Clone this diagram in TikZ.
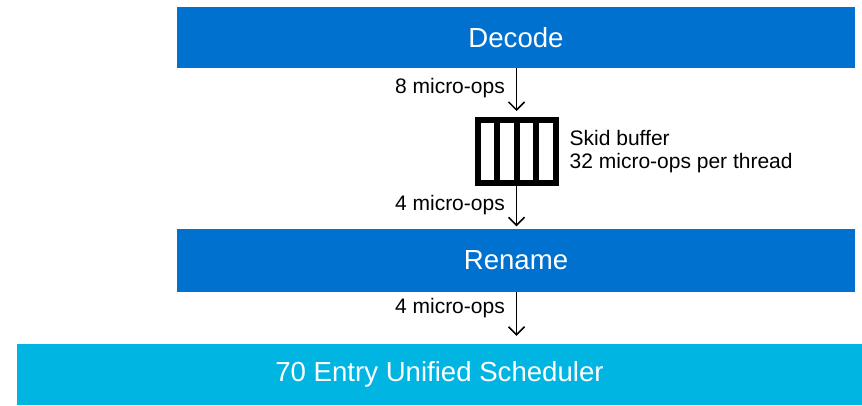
\documentclass[tikz,border=0pt]{standalone}
\usepackage{fontspec}
\setmainfont{Liberation Sans}
\usetikzlibrary{positioning,arrows.meta}
\definecolor{azulcaixa}{RGB}{0,113,206}
\definecolor{cianocaixa}{RGB}{0,181,226}
\begin{document}
\begin{tikzpicture}[x=1pt,y=-1pt]
\tikzstyle{etapa}=[fill=azulcaixa, text=white, inner sep=0, minimum height=61pt, font=\fontsize{27.6}{33}\selectfont]
\tikzstyle{rotulo}=[font=\fontsize{21}{23}\selectfont, inner sep=0]
\tikzstyle{seta}=[-{Straight Barb[length=8pt,width=16pt]}, line width=1.5pt]
\useasboundingbox(0,0)rectangle(862,405);
\node[etapa, minimum width=678pt](decode)at(516,37.5){Decode};
\node[etapa, minimum width=678pt, minimum height=63pt](rename)at(516,260){Rename};
\node[etapa, fill=cianocaixa, minimum width=845pt](sched)at(439.5,374.5){70 Entry Unified Scheduler};
\node[draw, line width=6pt, minimum width=78pt, minimum height=63pt, inner sep=0](buffer)at(516.5,151.5){};
\foreach \i in {-1,0,1}
  \draw[line width=6pt]([xshift=\i*19.5pt]buffer.north)--([xshift=\i*19.5pt]buffer.south);
\node[rotulo, align=left, right=11pt of buffer](info){Skid buffer\\32 micro-ops per thread};
\draw[seta](decode.south-|buffer.north)--([yshift=6pt]buffer.north);
\draw[seta](buffer.south)--([yshift=2pt]rename.north-|buffer.south);
\draw[seta](rename.south-|buffer.south)--([yshift=8pt]sched.north-|buffer.south);
\node[rotulo, anchor=east](oito)at(505,88){8 micro-ops};
\node[rotulo, anchor=east](quatroa)at(505,205){4 micro-ops};
\node[rotulo, anchor=east](quatrob)at(505,308){4 micro-ops};
\end{tikzpicture}
\end{document}
